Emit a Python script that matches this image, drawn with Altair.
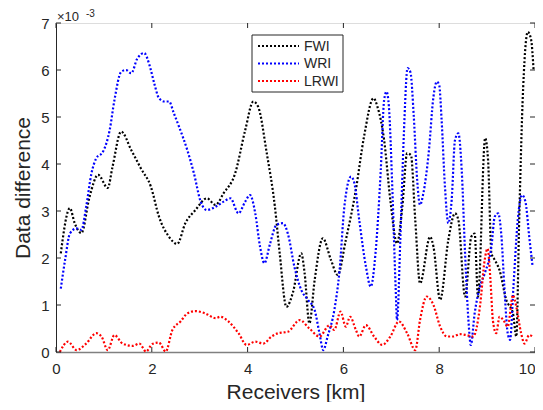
import altair as alt
import pandas as pd

# ---- data (values in units of 1e-3) ----
series_names = ["FWI", "WRI", "LRWI"]
series_colors = ["#000000", "#0000ff", "#ff0000"]

fwi_x = [0.10, 0.29, 0.39, 0.53, 0.70, 0.88, 1.08, 1.18, 1.36, 1.57, 1.77, 1.98, 2.15, 2.36, 2.53,
         2.70, 2.91, 3.15, 3.33, 3.50, 3.74, 3.95, 4.12, 4.22, 4.40, 4.57, 4.67, 4.81, 4.95, 5.12,
         5.19, 5.29, 5.40, 5.57, 5.74, 5.88, 6.05, 6.26, 6.43, 6.63, 6.71, 6.85, 6.98, 7.12, 7.23,
         7.33, 7.41, 7.50, 7.60, 7.81, 7.88, 8.02, 8.19, 8.33, 8.40, 8.54, 8.67, 8.74, 8.81, 8.96,
         9.02, 9.09, 9.16, 9.26, 9.40, 9.54, 9.61, 9.67, 9.74, 9.85, 9.92, 9.97]
fwi_y = [2.10, 3.06, 2.74, 2.53, 3.30, 3.77, 3.49, 3.94, 4.69, 4.30, 3.91, 3.52, 2.88, 2.45, 2.30,
         2.74, 3.02, 3.27, 3.13, 3.38, 3.80, 4.72, 5.33, 5.22, 4.23, 3.09, 2.10, 0.96, 1.28, 2.10,
         1.68, 0.61, 1.53, 2.42, 1.96, 1.64, 2.38, 3.45, 4.58, 5.40, 5.22, 4.51, 3.23, 2.31, 3.09,
         4.23, 4.19, 2.81, 1.46, 2.45, 2.24, 1.11, 2.38, 2.95, 2.81, 1.18, 2.45, 2.52, 1.18, 4.55,
         4.09, 2.10, 1.96, 1.74, 1.11, 0.82, 0.33, 2.81, 5.29, 6.81, 6.64, 6.00]

wri_x = [0.10, 0.19, 0.29, 0.43, 0.53, 0.63, 0.74, 0.84, 0.98, 1.12, 1.22, 1.36, 1.46, 1.57, 1.70,
         1.84, 1.95, 2.05, 2.15, 2.26, 2.36, 2.46, 2.57, 2.74, 2.88, 3.02, 3.15, 3.33, 3.50, 3.64,
         3.81, 3.95, 4.05, 4.16, 4.26, 4.35, 4.47, 4.60, 4.74, 4.84, 4.98, 5.12, 5.26, 5.40, 5.50,
         5.58, 5.67, 5.81, 5.92, 6.02, 6.16, 6.23, 6.33, 6.47, 6.57, 6.67, 6.78, 6.85, 6.90, 6.95,
         7.02, 7.09, 7.12, 7.19, 7.26, 7.34, 7.40, 7.47, 7.54, 7.60, 7.67, 7.78, 7.88, 7.95, 8.00,
         8.05, 8.12, 8.19, 8.26, 8.33, 8.40, 8.47, 8.54, 8.61, 8.66, 8.74, 8.85, 8.95, 9.09, 9.16,
         9.23, 9.30, 9.36, 9.43, 9.48, 9.55, 9.64, 9.73, 9.80, 9.88, 9.95]
wri_y = [1.35, 1.96, 2.52, 2.63, 2.60, 3.09, 3.80, 4.12, 4.26, 4.72, 5.36, 5.96, 6.00, 5.93, 6.25,
         6.36, 6.11, 5.72, 5.40, 5.33, 5.33, 5.08, 4.79, 4.30, 3.80, 3.20, 3.02, 3.09, 3.20, 3.27,
         2.95, 3.20, 3.34, 2.95, 2.24, 1.89, 2.31, 2.70, 2.74, 2.52, 1.80, 1.32, 1.11, 0.89, 0.40,
         0.04, 0.33, 0.89, 1.74, 3.09, 3.73, 3.59, 2.81, 1.82, 1.39, 2.10, 3.87, 5.36, 5.54, 5.22,
         3.52, 1.39, 0.68, 2.45, 4.58, 6.04, 5.95, 5.00, 3.66, 3.13, 3.38, 4.23, 5.43, 5.75, 5.68,
         4.94, 3.52, 2.74, 3.23, 4.51, 4.65, 3.87, 2.10, 0.68, 0.15, 0.82, 1.39, 1.67, 2.24, 2.88,
         2.95, 2.45, 1.39, 0.40, 0.26, 1.39, 2.81, 3.34, 3.20, 2.45, 1.82]

lrwi_x = [0.08, 0.25, 0.43, 0.63, 0.84, 0.95, 1.08, 1.22, 1.39, 1.60, 1.74, 1.88, 2.01, 2.15, 2.29,
          2.43, 2.60, 2.74, 2.91, 3.12, 3.33, 3.43, 3.60, 3.81, 3.98, 4.16, 4.33, 4.50, 4.64, 4.84,
          5.09, 5.29, 5.50, 5.71, 5.81, 5.94, 6.05, 6.14, 6.26, 6.33, 6.47, 6.64, 6.81, 6.98, 7.16,
          7.33, 7.50, 7.60, 7.74, 7.88, 8.02, 8.16, 8.29, 8.43, 8.57, 8.71, 8.85, 8.95, 9.01, 9.07,
          9.12, 9.19, 9.26, 9.34, 9.43, 9.54, 9.61, 9.71, 9.78, 9.88, 9.95]
lrwi_y = [0.00, 0.22, 0.04, 0.18, 0.40, 0.33, 0.04, 0.36, 0.18, 0.13, 0.18, 0.01, 0.17, 0.20, 0.01,
          0.47, 0.65, 0.82, 0.87, 0.82, 0.72, 0.75, 0.65, 0.40, 0.15, 0.22, 0.18, 0.33, 0.40, 0.43,
          0.68, 0.50, 0.33, 0.57, 0.47, 0.86, 0.54, 0.75, 0.47, 0.33, 0.57, 0.33, 0.15, 0.33, 0.65,
          0.40, 0.04, 0.68, 1.18, 1.00, 0.54, 0.33, 0.33, 0.38, 0.36, 0.33, 0.96, 1.96, 2.20, 1.53,
          0.68, 0.40, 0.75, 0.68, 0.54, 1.21, 0.96, 0.40, 0.18, 0.36, 0.33]

x_ticks = [0, 2, 4, 6, 8, 10]
y_ticks = [0, 1, 2, 3, 4, 5, 6, 7]

# ---- frames ----
rows = []
for name, xs, ys in [("FWI", fwi_x, fwi_y), ("WRI", wri_x, wri_y), ("LRWI", lrwi_x, lrwi_y)]:
    for i, (a, b) in enumerate(zip(xs, ys)):
        rows.append({"series": name, "x": a, "y": b, "i": i})
df = pd.DataFrame(rows)
xt = pd.DataFrame({"t": x_ticks})
yt = pd.DataFrame({"t": y_ticks})
one = pd.DataFrame({"a": [0]})

W, H = 479, 329
AX = "#262626"
FONT = "Liberation Sans"

xscale = alt.Scale(domain=[0, 10], nice=False)
yscale = alt.Scale(domain=[0, 7], nice=False)

lines = alt.Chart(df).mark_line(strokeDash=[2, 2], strokeWidth=2.2, interpolate="monotone").encode(
    x=alt.X("x:Q", scale=xscale,
            axis=alt.Axis(values=x_ticks, title="Receivers [km]", ticks=False, grid=False,
                          labelFontSize=15, labelColor=AX, labelPadding=9, labelFlush=False,
                          labelAlign={"condition": {"test": "datum.value >= 10", "value": "right"},
                                      "value": "center"},
                          titleFontSize=21, titleFontWeight="normal", titleColor=AX, titlePadding=5,
                          domainColor="#808080", domainWidth=1.5)),
    y=alt.Y("y:Q", scale=yscale,
            axis=alt.Axis(values=y_ticks, title="Data difference", ticks=False, grid=False,
                          labelFontSize=15, labelColor=AX, labelPadding=7, labelFlush=False,
                          titleFontSize=21, titleFontWeight="normal", titleColor=AX, titlePadding=7,
                          domainColor=AX, domainWidth=1)),
    color=alt.Color("series:N", scale=alt.Scale(domain=series_names, range=series_colors), legend=None),
    detail="series:N",
    order="i:Q",
)

tick_len = 5
bt = alt.Chart(xt).mark_rule(color=AX, strokeWidth=1).encode(
    x=alt.X("t:Q", scale=xscale), y=alt.value(H), y2=alt.value(H - tick_len))
tt = alt.Chart(xt).mark_rule(color=AX, strokeWidth=1).encode(
    x=alt.X("t:Q", scale=xscale), y=alt.value(0), y2=alt.value(tick_len))
lt = alt.Chart(yt).mark_rule(color=AX, strokeWidth=1).encode(
    y=alt.Y("t:Q", scale=yscale), x=alt.value(0), x2=alt.value(tick_len))
rt = alt.Chart(yt).mark_rule(color=AX, strokeWidth=1).encode(
    y=alt.Y("t:Q", scale=yscale), x=alt.value(W), x2=alt.value(W - tick_len))

# legend (manual, MATLAB style)
lx0, ly0, lx1, ly1 = 196, 12, 287, 69
legend_box = alt.Chart(one).mark_rect(fill="white", stroke=AX, strokeWidth=1).encode(
    x=alt.value(lx0), x2=alt.value(lx1), y=alt.value(ly0), y2=alt.value(ly1))
legend_layers = [legend_box]
row_y = [23, 40.5, 58]
for name, col, ry in zip(series_names, series_colors, row_y):
    legend_layers.append(
        alt.Chart(one).mark_rule(color=col, strokeWidth=2.2, strokeDash=[2, 2]).encode(
            x=alt.value(202), x2=alt.value(243), y=alt.value(ry)))
    legend_layers.append(
        alt.Chart(one).mark_text(text=name, align="left", baseline="middle", fontSize=14,
                                 color=AX, font=FONT).encode(
            x=alt.value(248), y=alt.value(ry + 0.5)))

exp1 = alt.Chart(one).mark_text(text="\u00d710", align="left", baseline="alphabetic",
                                fontSize=13, color=AX, font=FONT).encode(
    x=alt.value(1), y=alt.value(-2))
exp2 = alt.Chart(one).mark_text(text="-3", align="left", baseline="alphabetic",
                                fontSize=10, color=AX, font=FONT).encode(
    x=alt.value(30), y=alt.value(-6))

chart = alt.layer(lines, bt, tt, lt, rt, *legend_layers, exp1, exp2).properties(
    width=W, height=H,
    autosize=alt.AutoSizeParams(type="none"),
    padding={"left": 48, "top": 15, "right": 0, "bottom": 50},
).configure_view(stroke=AX, strokeWidth=1).configure(font=FONT, background="white")

chart.save("out.html", embed_options={"renderer": "svg", "actions": False})
